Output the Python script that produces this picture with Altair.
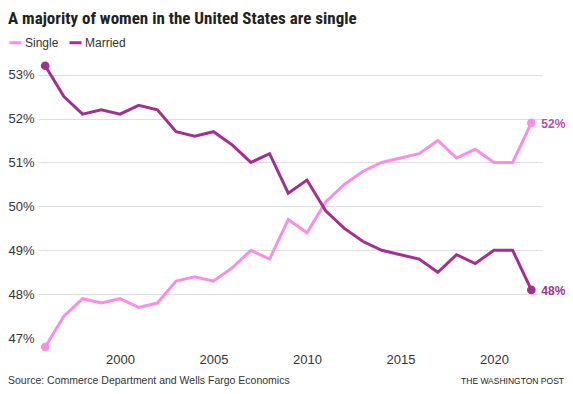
import altair as alt
import pandas as pd

years = list(range(1996, 2023))
single = [46.8, 47.5, 47.9, 47.8, 47.9, 47.7, 47.8, 48.3, 48.4, 48.3, 48.6, 49.0, 48.8,
          49.7, 49.4, 50.1, 50.5, 50.8, 51.0, 51.1, 51.2, 51.5, 51.1, 51.3, 51.0, 51.0, 51.9]
married = [53.2, 52.5, 52.1, 52.2, 52.1, 52.3, 52.2, 51.7, 51.6, 51.7, 51.4, 51.0, 51.2,
           50.3, 50.6, 49.9, 49.5, 49.2, 49.0, 48.9, 48.8, 48.5, 48.9, 48.7, 49.0, 49.0, 48.1]
series_names = ["Single", "Married"]
series_colors = ["#f98ee5", "#a3308f"]
x_ticks = [2000, 2005, 2010, 2015, 2020]
y_ticks = [47, 48, 49, 50, 51, 52, 53]

title_text = "A majority of women in the United States are single"
source_text = "Source: Commerce Department and Wells Fargo Economics"
credit_text = "THE WASHINGTON POST"

df = pd.concat([
    pd.DataFrame({"year": years, "pct": single, "series": "Single"}),
    pd.DataFrame({"year": years, "pct": married, "series": "Married"}),
])

FONT = "Liberation Sans"
NARROW = "Liberation Sans Narrow, Roboto Condensed, Arial Narrow, sans-serif"

base = alt.Chart(df).encode(
    x=alt.X("year:Q",
            scale=alt.Scale(domain=[1995.615, 2022.57], nice=False, zero=False),
            axis=alt.Axis(values=x_ticks, format="d", title=None, grid=False,
                          ticks=False, domain=False, labelFontSize=13,
                          labelColor="#333333", labelPadding=6, labelFont=FONT)),
    y=alt.Y("pct:Q",
            scale=alt.Scale(domain=[46.8, 53.4], nice=False, zero=False),
            axis=alt.Axis(values=y_ticks, labelExpr="datum.value + '%'", title=None,
                          ticks=False, domain=False, labelFontSize=13,
                          labelColor="#333333", labelPadding=4, labelFont=FONT,
                          gridColor="#dddddd", gridWidth=1,
                          gridOpacity={"condition": {"test": "datum.value == 47", "value": 0}, "value": 1})),
    color=alt.Color("series:N",
                    scale=alt.Scale(domain=series_names, range=series_colors),
                    legend=alt.Legend(title=None, orient="none", legendX=-30, legendY=-22,
                                      direction="horizontal", symbolType="stroke",
                                      symbolStrokeWidth=3, symbolSize=144,
                                      labelFontSize=12, labelFont=FONT,
                                      labelColor="#333333", columnPadding=4,
                                      labelOffset=2)),
)

lines = base.mark_line(strokeWidth=3)

points = base.mark_circle(size=75, opacity=1).transform_filter(
    "datum.year == 1996 || datum.year == 2022")

end_labels = base.mark_text(align="left", baseline="middle", dx=10, dy=1,
                            fontWeight="bold", fontSize=12, font=FONT).encode(
    text="label:N",
    color=alt.condition("datum.series == 'Single'", alt.value("#c04aac"), alt.value("#a3308f")),
).transform_filter("datum.year == 2022").transform_calculate(
    label="format(round(datum.pct), 'd') + '%'")

title = alt.Chart(pd.DataFrame({"t": [title_text]})).mark_text(
    align="left", baseline="alphabetic", fontSize=17, font=NARROW, fontWeight="bold",
    color="#222222"
).encode(x=alt.value(-30), y=alt.value(-33), text="t:N")

source = alt.Chart(pd.DataFrame({"t": [source_text]})).mark_text(
    align="left", baseline="alphabetic", fontSize=10.5, font=FONT, color="#333333"
).encode(x=alt.value(-30), y=alt.value(327), text="t:N")

credit = alt.Chart(pd.DataFrame({"t": [credit_text]})).mark_text(
    align="right", baseline="alphabetic", fontSize=8.5, font=FONT, color="#222222"
).encode(x=alt.value(526), y=alt.value(327), text="t:N")

chart = alt.layer(lines, points, end_labels, title, source, credit).properties(
    width=504, height=290,
    autosize=alt.AutoSizeParams(type="none"),
    padding={"left": 30, "top": 49, "right": 23, "bottom": 39},
).configure_view(stroke=None)

chart.save("out.html", embed_options={"renderer": "svg", "actions": False})
